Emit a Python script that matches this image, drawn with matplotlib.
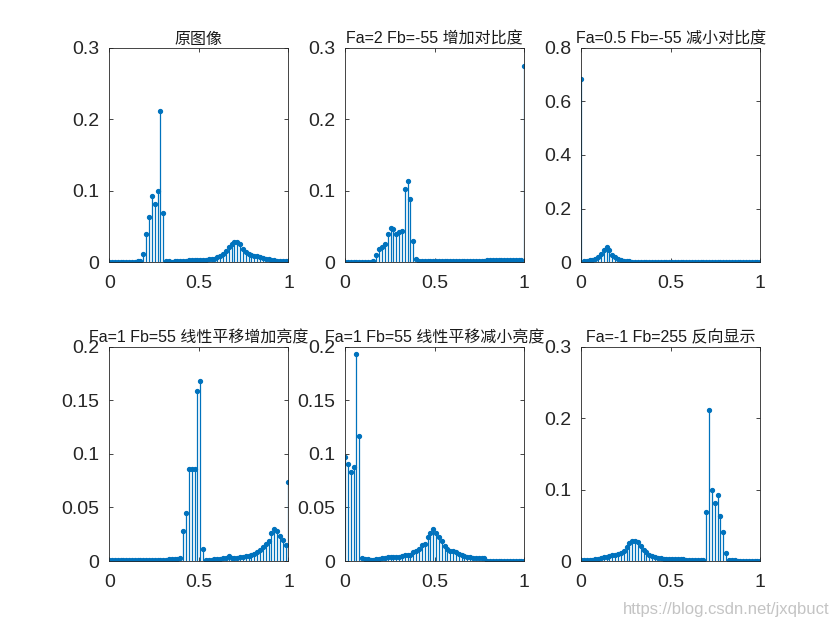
import numpy as np
import matplotlib
matplotlib.use('Agg')
import matplotlib.pyplot as plt
from matplotlib.ticker import FormatStrFormatter

plt.rcParams['font.family'] = ['Liberation Sans', 'Noto Sans CJK SC']

# 64个灰度区间, 横轴归一化到 0~1
x = np.linspace(0, 1, 64)

# 原图像
h_orig = [0.0005, 0.0005, 0.0005, 0.0005, 0.0005, 0.0005, 0.0005, 0.0006, 0.0007, 0.0008, 0.0009, 0.001,
          0.011, 0.040, 0.063, 0.092, 0.081, 0.099, 0.211, 0.069,
          0.001, 0.001, 0.0008, 0.001, 0.0015, 0.002, 0.002, 0.0022, 0.0025, 0.0025, 0.0025, 0.0028,
          0.003, 0.003, 0.0035, 0.004, 0.0045, 0.005,
          0.007, 0.009, 0.012, 0.016, 0.021, 0.026, 0.028, 0.028, 0.025, 0.019, 0.014, 0.011, 0.010,
          0.009, 0.008, 0.007, 0.006, 0.005, 0.004, 0.003, 0.0025, 0.002, 0.0015, 0.001, 0.001, 0.001]

# Fa=2 Fb=-55
h_inc_con = [0.0008, 0.0008, 0.0008, 0.0008, 0.0008, 0.0008, 0.0008, 0.0008, 0.0008, 0.0008, 0.002,
             0.0097, 0.019, 0.021, 0.025, 0.039, 0.048, 0.046, 0.040, 0.042, 0.044, 0.103, 0.114, 0.089,
             0.029, 0.004,
             0.0015, 0.0015, 0.0015, 0.0015, 0.0015, 0.0015, 0.0015, 0.0015, 0.0015, 0.0015, 0.0016,
             0.0017, 0.0018, 0.0018, 0.0019, 0.002, 0.002, 0.002, 0.002, 0.002, 0.0021, 0.0021, 0.0022,
             0.0022, 0.0023, 0.0023, 0.0024, 0.0024, 0.0025, 0.0025, 0.0026, 0.0026, 0.0027, 0.0028,
             0.0029, 0.003, 0.003,
             0.274]

# Fa=0.5 Fb=-55
h_dec_con = [0.685, 0.004, 0.005, 0.006, 0.008, 0.012, 0.020, 0.032, 0.044, 0.058, 0.044, 0.026, 0.018,
             0.012, 0.008, 0.005, 0.004, 0.003, 0.002, 0.002, 0.0015,
             0.001, 0.001, 0.001, 0.001, 0.001, 0.001, 0.001, 0.001, 0.001, 0.001, 0.001, 0.001, 0.001,
             0.001, 0.001, 0.001, 0.001, 0.001, 0.001, 0.001, 0.001, 0.001, 0.001, 0.001, 0.001, 0.001,
             0.001, 0.001, 0.001, 0.001, 0.001, 0.001, 0.001, 0.001, 0.001, 0.001, 0.001, 0.001, 0.001,
             0.001, 0.001, 0.001, 0.001]

# Fa=1 Fb=55 增加亮度
h_inc_bri = [0.0005, 0.0005, 0.0005, 0.0005, 0.0005, 0.0005, 0.0005, 0.0005, 0.0005, 0.0005, 0.0005,
             0.0005, 0.0005, 0.0005, 0.0005, 0.0005, 0.0005, 0.0005, 0.0005, 0.0005, 0.0005,
             0.0015, 0.0015, 0.0015, 0.002, 0.003,
             0.028, 0.045, 0.086, 0.086, 0.086, 0.159, 0.168, 0.011,
             0.001, 0.001, 0.0012, 0.0015, 0.002, 0.002, 0.003, 0.003, 0.005, 0.003, 0.003, 0.003,
             0.0035, 0.004, 0.0045, 0.005, 0.0055, 0.007, 0.0085, 0.010, 0.013, 0.016, 0.019, 0.026,
             0.030, 0.028, 0.023, 0.020, 0.015, 0.074]

# Fa=1 Fb=-55 减小亮度
h_dec_bri = [0.097, 0.091, 0.083, 0.088, 0.193, 0.117, 0.003,
             0.002, 0.0015, 0.001, 0.001, 0.0015, 0.002, 0.0025, 0.003, 0.004, 0.004, 0.0035, 0.0035,
             0.004, 0.0045, 0.0055, 0.0055, 0.006, 0.008, 0.009, 0.011, 0.015, 0.016, 0.022, 0.026,
             0.030, 0.026, 0.0225, 0.019, 0.014, 0.011, 0.009, 0.009, 0.008, 0.007, 0.006, 0.005, 0.004,
             0.0035, 0.003, 0.003, 0.003, 0.003, 0.0025,
             0.0003, 0.0003, 0.0003, 0.0003, 0.0003, 0.0003, 0.0003, 0.0003, 0.0003, 0.0003, 0.0003,
             0.0003, 0.0003, 0.0003]

# Fa=-1 Fb=255 反向
h_neg = [0.001, 0.001, 0.001, 0.0015, 0.002, 0.0025, 0.003, 0.004, 0.005, 0.006, 0.007, 0.008, 0.009,
         0.010, 0.011, 0.014, 0.019, 0.025, 0.028, 0.028, 0.026, 0.021, 0.016, 0.012, 0.009, 0.007,
         0.005, 0.0045, 0.004, 0.0035, 0.003, 0.003, 0.0028, 0.0025, 0.0025, 0.0025, 0.0022, 0.002,
         0.002, 0.0015, 0.001, 0.0008, 0.001, 0.001,
         0.069, 0.211, 0.099, 0.081, 0.092, 0.063, 0.040, 0.011,
         0.001, 0.0009, 0.0008, 0.0007, 0.0006, 0.0005, 0.0005, 0.0005, 0.0005, 0.0005, 0.0005, 0.0005]

hists = [h_orig, h_inc_con, h_dec_con, h_inc_bri, h_dec_bri, h_neg]
titles = ['原图像', 'Fa=2 Fb=-55 增加对比度', 'Fa=0.5 Fb=-55 减小对比度',
          'Fa=1 Fb=55 线性平移增加亮度', 'Fa=1 Fb=55 线性平移减小亮度', 'Fa=-1 Fb=255 反向显示']
ylims = [0.3, 0.3, 0.8, 0.2, 0.2, 0.3]
yticks = [[0, 0.1, 0.2, 0.3], [0, 0.1, 0.2, 0.3], [0, 0.2, 0.4, 0.6, 0.8],
          [0, 0.05, 0.1, 0.15, 0.2], [0, 0.05, 0.1, 0.15, 0.2], [0, 0.1, 0.2, 0.3]]

fig = plt.figure(figsize=(8.4, 6.3), dpi=100)
lefts = [0.13, 0.4107, 0.6917]
bottoms = [0.584, 0.1095]
c = '#0072BD'

for k in range(6):
    ax = fig.add_axes([lefts[k % 3], bottoms[k // 3], 0.2134, 0.34])
    ml, sl, bl = ax.stem(x, hists[k])
    plt.setp(sl, color=c, linewidth=0.9)
    plt.setp(ml, color=c, marker='o', markersize=2.8)
    bl.set_visible(False)
    ax.set_xlim(0, 1)
    ax.set_ylim(0, ylims[k])
    ax.set_xticks([0, 0.5, 1])
    ax.set_yticks(yticks[k])
    ax.xaxis.set_major_formatter(FormatStrFormatter('%g'))
    ax.yaxis.set_major_formatter(FormatStrFormatter('%g'))
    ax.tick_params(direction='in', top=True, right=True, length=3, width=0.6,
                   labelsize=14, colors='#262626')
    ax.tick_params(axis='x', pad=9)
    ax.tick_params(axis='y', pad=7)
    for s in ax.spines.values():
        s.set_color('#262626')
        s.set_linewidth(0.6)
    ax.set_title(titles[k], fontsize=11.5, pad=3, color='#1a1a1a')

fig.text(0.988, 0.032, 'https://blog.csdn.net/jxqbuct', ha='right', va='center',
         fontsize=12, color='#c4c4c4')

plt.savefig('out.png', dpi=100)
